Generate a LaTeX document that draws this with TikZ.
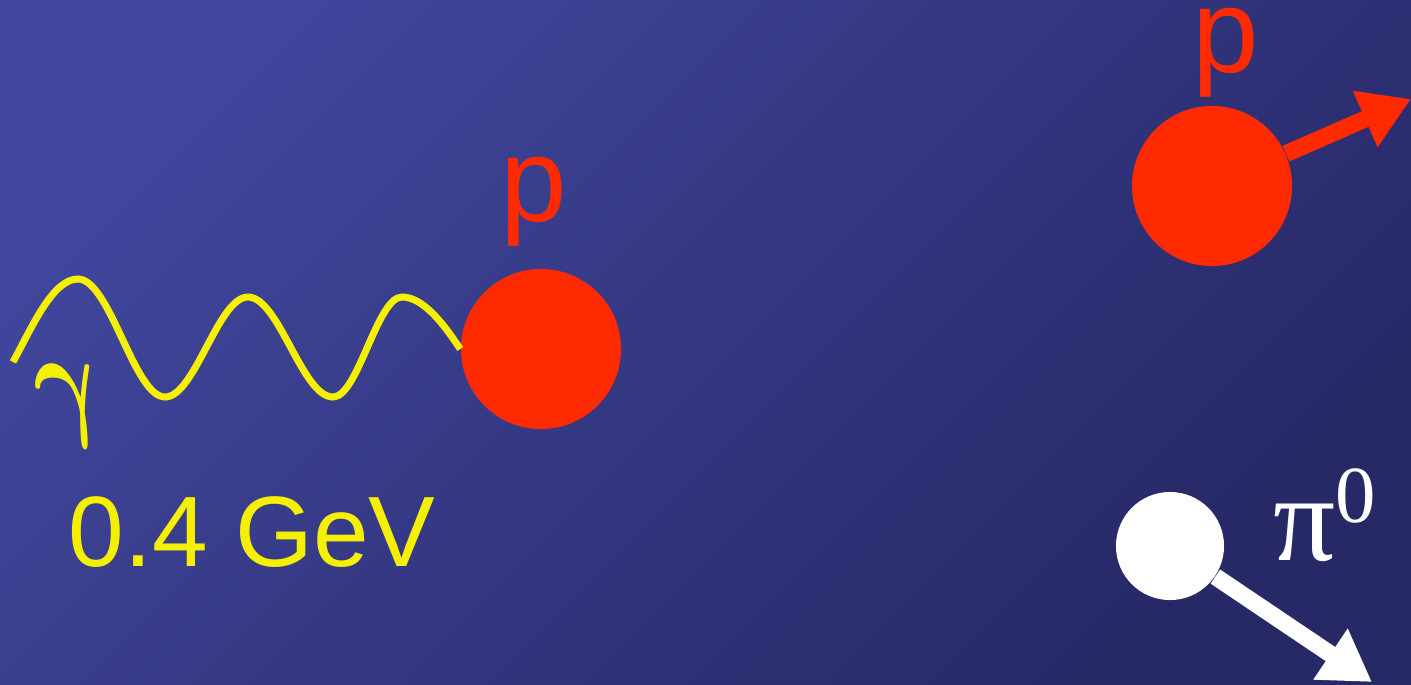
\documentclass[tikz,border=0pt]{standalone}
\usepackage{fix-cm}
\usepackage{fontspec}
\setmainfont{Liberation Sans}
\newfontfamily\greekserif{Liberation Serif}
\usetikzlibrary{arrows.meta}
\definecolor{bgA}{RGB}{64,70,156}
\definecolor{bgB}{RGB}{39,40,102}
\definecolor{pred}{RGB}{255,42,0}
\definecolor{pyel}{RGB}{245,240,0}
\tikzset{
  ball/.style={circle, fill=#1, draw=none, inner sep=0pt},
  lbl/.style={inner sep=0pt, text=#1},
  photon/.style={draw=pyel, line width=0.07cm},
  mom/.style={draw=#1, line width=0.17cm, -{Triangle[width=0.58cm,length=0.5cm]}},
}
\begin{document}
\begin{tikzpicture}[x=0.01cm, y=-0.01cm]
\useasboundingbox (0,0) rectangle (1411,684);
\shade[top color=bgA, bottom color=bgB, shading angle=45] (0,0) rectangle (1411,684);
% particles
\node[ball=pred, minimum size=1.6cm] (p1) at (541,349) {};
\node[ball=pred, minimum size=1.6cm] (p2) at (1212,186) {};
\node[ball=white, minimum size=1.08cm] (pi) at (1170,546) {};
% labels
\node[lbl=pred, anchor=base, font=\fontsize{34pt}{36pt}\selectfont] (lp1) at (534,221) {p};
\node[lbl=pred, anchor=base, font=\fontsize{34pt}{36pt}\selectfont] (lp2) at (1226,72) {p};
\node[lbl=pyel, anchor=base west, font=\fontsize{28.45pt}{30pt}\selectfont] (lgev) at (68,566) {0.4 GeV};
\node[lbl=pyel, anchor=base, xslant=-0.25, xscale=0.75, font=\fontsize{37pt}{39pt}\selectfont\boldmath] (lgam) at (75,422) {$\gamma$};
\node[lbl=white, anchor=base west, font=\greekserif\fontsize{35pt}{37pt}\selectfont] (lpi) at (1273,560) {π\raisebox{0.37cm}{\fontsize{23pt}{25pt}\selectfont 0}};
% photon
\coordinate (g0) at (13,362);
\draw[photon] (g0) .. controls (33,325) and (53,279) .. (78,279)
  .. controls (110,279) and (134,397) .. (165,397)
  .. controls (195,397) and (218,297) .. (248,297)
  .. controls (279,297) and (302,397) .. (333,397)
  .. controls (358,397) and (377,297) .. (402,297)
  .. controls (424,297) and (445,326) .. (p1.west);
% outgoing momenta
\coordinate (p2tip) at (1411,99);
\coordinate (pitip) at (1372,682);
\draw[mom=pred] (p2) -- (p2tip);
\draw[mom=white] (pi) -- (pitip);
\end{tikzpicture}
\end{document}
